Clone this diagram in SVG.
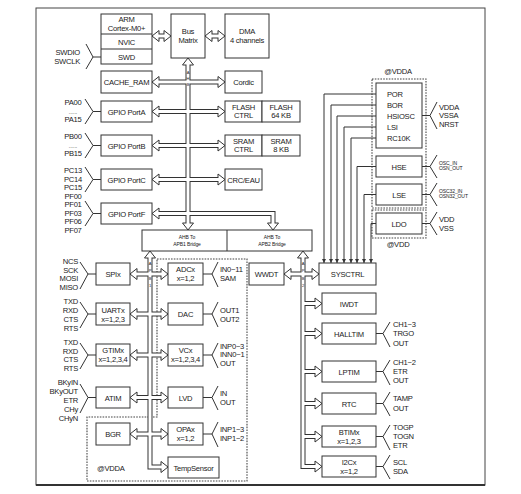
<svg xmlns="http://www.w3.org/2000/svg" width="521" height="494" viewBox="0 0 521 494">
<defs>
<style>
.bx{fill:#fff;stroke:#333;stroke-width:1}
.t{font-family:"Liberation Sans",Arial,sans-serif;font-size:7.6px;fill:#1a1a1a;text-anchor:middle;letter-spacing:-0.25px}
.e{text-anchor:end}
.st{text-anchor:start}
.sm{font-size:5px;letter-spacing:-0.1px}
.xs{font-size:4px;letter-spacing:0}
.ln{fill:none;stroke:#333;stroke-width:1}
.dot{fill:none;stroke:#444;stroke-width:1.1;stroke-dasharray:1.6 1.2}
.bo{fill:none;stroke:#333;stroke-width:5;stroke-linejoin:miter}
.bi{fill:none;stroke:#fff;stroke-width:3;stroke-linejoin:miter}
.hd{fill:#fff;stroke:#333;stroke-width:1;stroke-linejoin:miter}
.frame{fill:none;stroke:#444;stroke-width:1}
</style>
<path id="hd" d="M0,0 L-7,-5.5 L-7,5.5 Z"/>
<path id="bus" d="M158,36 H165 M211,36 H219 M188,64 V224 M158,82 H219 M158,111.5 H219 M158,145.5 H219 M158,179.5 H219 M158,213.5 H273 V224
M150,257 V467 H162 M136,274 H162 M136,314 H162 M136,355 H162 M136,397.5 H162 M136,434 H162
M303,257 V466.5 H316 M290,274 H313 M303,303.5 H316 M303,333.5 H316 M303,371.5 H316 M303,403.5 H316 M303,436.5 H316"/>
<marker id="ar" viewBox="0 0 6 6" refX="6" refY="3" markerWidth="4.5" markerHeight="4.5" orient="auto" markerUnits="userSpaceOnUse"><path d="M0,0 L6,3 L0,6 Z" fill="#333"/></marker>
</defs>

<rect class="frame" x="36" y="8" width="449" height="477"/>
<path d="M36,485 H485" stroke="#333" stroke-width="2"/>

<!-- dotted power domains -->
<path class="dot" d="M157,259 H247 V481 H87 V417 H157 Z"/>
<rect class="dot" x="372" y="79" width="54" height="129"/>
<rect class="dot" x="372" y="210" width="54" height="28"/>
<text class="t st" x="97" y="471">@VDDA</text>
<text class="t" x="398" y="74">@VDDA</text>
<text class="t" x="398" y="247">@VDD</text>

<g id="connectors">
  <use href="#bus" class="bo"/>
  <g id="heads" class="hd">
    <use href="#hd" transform="translate(152,36) rotate(180)"/>
    <use href="#hd" transform="translate(171,36)"/>
    <use href="#hd" transform="translate(205,36) rotate(180)"/>
    <use href="#hd" transform="translate(225,36)"/>
    <use href="#hd" transform="translate(188,58) rotate(-90)"/>
    <use href="#hd" transform="translate(188,230) rotate(90)"/>
    <use href="#hd" transform="translate(152,82) rotate(180)"/>
    <use href="#hd" transform="translate(225,82)"/>
    <use href="#hd" transform="translate(152,111.5) rotate(180)"/>
    <use href="#hd" transform="translate(225,111.5)"/>
    <use href="#hd" transform="translate(152,145.5) rotate(180)"/>
    <use href="#hd" transform="translate(225,145.5)"/>
    <use href="#hd" transform="translate(152,179.5) rotate(180)"/>
    <use href="#hd" transform="translate(225,179.5)"/>
    <use href="#hd" transform="translate(152,213.5) rotate(180)"/>
    <use href="#hd" transform="translate(273,230) rotate(90)"/>
    <use href="#hd" transform="translate(150,251) rotate(-90)"/>
    <use href="#hd" transform="translate(168,467)"/>
    <use href="#hd" transform="translate(130,274) rotate(180)"/>
    <use href="#hd" transform="translate(168,274)"/>
    <use href="#hd" transform="translate(130,314) rotate(180)"/>
    <use href="#hd" transform="translate(168,314)"/>
    <use href="#hd" transform="translate(130,355) rotate(180)"/>
    <use href="#hd" transform="translate(168,355)"/>
    <use href="#hd" transform="translate(130,397.5) rotate(180)"/>
    <use href="#hd" transform="translate(168,397.5)"/>
    <use href="#hd" transform="translate(130,434) rotate(180)"/>
    <use href="#hd" transform="translate(168,434)"/>
    <use href="#hd" transform="translate(303,251) rotate(-90)"/>
    <use href="#hd" transform="translate(322,466.5)"/>
    <use href="#hd" transform="translate(284,274) rotate(180)"/>
    <use href="#hd" transform="translate(319,274)"/>
    <use href="#hd" transform="translate(322,303.5)"/>
    <use href="#hd" transform="translate(322,333.5)"/>
    <use href="#hd" transform="translate(322,371.5)"/>
    <use href="#hd" transform="translate(322,403.5)"/>
    <use href="#hd" transform="translate(322,436.5)"/>
  </g>
  <use href="#bus" class="bi"/>
  <g class="t xs">
    <text x="188" y="73.5">A</text><text x="188" y="79.5">H</text><text x="188" y="85.5">B</text>
    <text x="150" y="264.5">A</text><text x="150" y="271.5">P</text><text x="150" y="279.5">B</text><text x="150" y="286.5">1</text>
    <text x="303" y="264.5">A</text><text x="303" y="271.5">P</text><text x="303" y="279.5">B</text><text x="303" y="286.5">2</text>
  </g>
  <g id="power-lines" class="ln">
    <path d="M376,94 H324 V263" marker-end="url(#ar)"/>
    <path d="M376,105 H331 V263" marker-end="url(#ar)"/>
    <path d="M376,116 H337 V263" marker-end="url(#ar)"/>
    <path d="M376,127 H344 V263" marker-end="url(#ar)"/>
    <path d="M376,138 H351 V263" marker-end="url(#ar)"/>
    <path d="M376,166.5 H357 V263" marker-end="url(#ar)"/>
    <path d="M376,194.5 H364 V263" marker-end="url(#ar)"/>
    <path d="M376,223.5 H371 V263" marker-end="url(#ar)"/>
  </g>
  <g id="pins" class="ln">
    <path d="M86,44 L93,57 L86,69 M93,57 H101"/>
    <path d="M85,99 L93,111.5 L85,124 M93,111.5 H101"/>
    <path d="M85,133 L93,145.5 L85,158 M93,145.5 H101"/>
    <path d="M85,167 L93,179.5 L85,192 M93,179.5 H101"/>
    <path d="M85,201 L93,213.5 L85,226 M93,213.5 H101"/>
    <path d="M80,262 L88,274 L80,289 M88,274 H96"/>
    <path d="M80,302 L88,314 L80,328 M88,314 H96"/>
    <path d="M80,343 L88,355 L80,369 M88,355 H96"/>
    <path d="M80,384 L88,397.5 L80,413 M88,397.5 H96"/>
    <path d="M203,274 H212 M218,262 L212,274 L218,287"/>
    <path d="M203,314 H212 M218,302 L212,314 L218,327"/>
    <path d="M203,355 H212 M218,343 L212,355 L218,368"/>
    <path d="M203,397.5 H212 M218,386 L212,397.5 L218,410"/>
    <path d="M203,434 H212 M218,422 L212,434 L218,447"/>
    <path d="M376,333.5 H383 M390,322 L383,333.5 L390,347"/>
    <path d="M376,371.5 H383 M390,360 L383,371.5 L390,385"/>
    <path d="M376,403.5 H383 M390,392 L383,403.5 L390,416"/>
    <path d="M376,436.5 H383 M390,425 L383,436.5 L390,450"/>
    <path d="M376,466.5 H383 M390,455 L383,466.5 L390,479"/>
    <path d="M422,115.5 H430 M437,102 L430,115.5 L437,129"/>
    <path d="M422,166.5 H430 M437,155 L430,166.5 L437,178"/>
    <path d="M422,194.5 H430 M437,183 L430,194.5 L437,206"/>
    <path d="M422,223.5 H430 M437,212 L430,223.5 L437,235"/>
  </g>
</g>

<!-- pin labels -->
<g class="t e">
  <text x="80" y="55">SWDIO</text><text x="80" y="64">SWCLK</text>
  <text x="78" y="264">NCS</text><text x="78" y="273">SCK</text><text x="78" y="281">MOSI</text><text x="78" y="290">MISO</text>
  <text x="78" y="304">TXD</text><text x="78" y="313">RXD</text><text x="78" y="322">CTS</text><text x="78" y="331">RTS</text>
  <text x="78" y="345">TXD</text><text x="78" y="354">RXD</text><text x="78" y="362">CTS</text><text x="78" y="371">RTS</text>
  <text x="78" y="385">BKyIN</text><text x="78" y="394">BKyOUT</text><text x="78" y="403">ETR</text><text x="78" y="412">CHy</text><text x="78" y="421">CHyN</text>
</g>
<g class="t">
  <text x="73" y="104.5">PA00</text><text x="73" y="113.5" style="font-size:5px;letter-spacing:0">......</text><text x="73" y="122">PA15</text>
  <text x="73" y="138.5">PB00</text><text x="73" y="147.5" style="font-size:5px;letter-spacing:0">......</text><text x="73" y="156">PB15</text>
  <text x="73" y="173">PC13</text><text x="73" y="182">PC14</text><text x="73" y="190">PC15</text><text x="73" y="199">PF00</text>
  <text x="73" y="207">PF01</text><text x="73" y="216">PF03</text><text x="73" y="224">PF06</text><text x="73" y="233">PF07</text>
</g>
<g class="t st">
  <text x="220" y="272">IN0~11</text><text x="220" y="281">SAM</text>
  <text x="220" y="313">OUT1</text><text x="220" y="322">OUT2</text>
  <text x="220" y="349">INP0~3</text><text x="220" y="357">INN0~1</text><text x="220" y="366">OUT</text>
  <text x="220" y="396">IN</text><text x="220" y="405">OUT</text>
  <text x="220" y="432">INP1~3</text><text x="220" y="441">INP1~2</text>
  <text x="393" y="327">CH1~3</text><text x="393" y="336">TRGO</text><text x="393" y="346">OUT</text>
  <text x="393" y="365">CH1~2</text><text x="393" y="374">ETR</text><text x="393" y="383">OUT</text>
  <text x="393" y="401">TAMP</text><text x="393" y="411">OUT</text>
  <text x="393" y="430">TOGP</text><text x="393" y="439">TOGN</text><text x="393" y="448">ETR</text>
  <text x="393" y="465">SCL</text><text x="393" y="474">SDA</text>
  <text x="439" y="110">VDDA</text><text x="439" y="118">VSSA</text><text x="439" y="127">NRST</text>
  <text x="439" y="222">VDD</text><text x="439" y="231">VSS</text>
</g>
<g class="t st sm">
  <text x="439" y="165">OSC_IN</text><text x="439" y="170">OSN_OUT</text>
  <text x="439" y="193">OSC32_IN</text><text x="439" y="198">OSN32_OUT</text>
</g>

<!-- nodes -->
<g id="cpu"><rect class="bx" x="101" y="14" width="51" height="50"/><path class="ln" d="M101,34 H152 M101,49 H152"/>
  <text class="t" x="126.5" y="22">ARM</text><text class="t" x="126.5" y="31">Cortex-M0+</text><text class="t" x="126.5" y="45">NVIC</text><text class="t" x="126.5" y="60">SWD</text></g>
<g id="busmatrix"><rect class="bx" x="171" y="14" width="34" height="44"/><text class="t" x="188" y="34">Bus</text><text class="t" x="188" y="43">Matrix</text></g>
<g id="dma"><rect class="bx" x="225" y="14" width="44" height="44"/><text class="t" x="247" y="34">DMA</text><text class="t" x="247" y="43">4 channels</text></g>
<g id="cacheram"><rect class="bx" x="101" y="71" width="51" height="22"/><text class="t" x="126.5" y="85">CACHE_RAM</text></g>
<g id="cordic"><rect class="bx" x="225" y="71" width="37" height="22"/><text class="t" x="243.5" y="85">Cordic</text></g>
<g id="gpioa"><rect class="bx" x="101" y="101" width="51" height="21"/><text class="t" x="126.5" y="114.5">GPIO PortA</text></g>
<g id="flash"><rect class="bx" x="225" y="101" width="37" height="21"/><rect class="bx" x="262" y="101" width="38" height="21"/>
  <text class="t" x="243.5" y="110">FLASH</text><text class="t" x="243.5" y="118">CTRL</text><text class="t" x="281" y="110">FLASH</text><text class="t" x="281" y="118">64 KB</text></g>
<g id="gpiob"><rect class="bx" x="101" y="135" width="51" height="21"/><text class="t" x="126.5" y="148.5">GPIO PortB</text></g>
<g id="sram"><rect class="bx" x="225" y="135" width="37" height="21"/><rect class="bx" x="262" y="135" width="38" height="21"/>
  <text class="t" x="243.5" y="144">SRAM</text><text class="t" x="243.5" y="152">CTRL</text><text class="t" x="281" y="144">SRAM</text><text class="t" x="281" y="152">8 KB</text></g>
<g id="gpioc"><rect class="bx" x="101" y="169" width="51" height="21"/><text class="t" x="126.5" y="182.5">GPIO PortC</text></g>
<g id="crc"><rect class="bx" x="225" y="169" width="37" height="21"/><text class="t" x="243.5" y="182.5">CRC/EAU</text></g>
<g id="gpiof"><rect class="bx" x="101" y="203" width="51" height="21"/><text class="t" x="126.5" y="216.5">GPIO PortF</text></g>
<g id="bridge"><rect class="bx" x="142" y="230" width="170" height="21"/><path class="ln" d="M227,230 V251"/>
  <text class="t sm" x="187" y="239">AHB To</text><text class="t sm" x="187" y="246">APB1 Bridge</text>
  <text class="t sm" x="272" y="239">AHB To</text><text class="t sm" x="272" y="246">APB2 Bridge</text></g>
<g id="spi"><rect class="bx" x="96" y="263" width="34" height="22"/><text class="t" x="113" y="277">SPIx</text></g>
<g id="uart"><rect class="bx" x="96" y="303" width="34" height="22"/><text class="t" x="113" y="313">UARTx</text><text class="t" x="113" y="322">x=1,2,3</text></g>
<g id="gtim"><rect class="bx" x="96" y="344" width="34" height="22"/><text class="t" x="113" y="353">GTIMx</text><text class="t" x="113" y="362">x=1,2,3,4</text></g>
<g id="atim"><rect class="bx" x="96" y="387" width="34" height="21"/><text class="t" x="113" y="400.5">ATIM</text></g>
<g id="bgr"><rect class="bx" x="96" y="423" width="34" height="22"/><text class="t" x="113" y="437">BGR</text></g>
<g id="adc"><rect class="bx" x="168" y="263" width="35" height="22"/><text class="t" x="185.5" y="272">ADCx</text><text class="t" x="185.5" y="281">x=1,2</text></g>
<g id="dac"><rect class="bx" x="168" y="303" width="35" height="22"/><text class="t" x="185.5" y="317">DAC</text></g>
<g id="vc"><rect class="bx" x="168" y="344" width="35" height="22"/><text class="t" x="185.5" y="353">VCx</text><text class="t" x="185.5" y="362">x=1,2,3,4</text></g>
<g id="lvd"><rect class="bx" x="168" y="387" width="35" height="21"/><text class="t" x="185.5" y="400.5">LVD</text></g>
<g id="opa"><rect class="bx" x="168" y="423" width="35" height="22"/><text class="t" x="185.5" y="432">OPAx</text><text class="t" x="185.5" y="441">x=1,2</text></g>
<g id="tempsensor"><rect class="bx" x="168" y="457" width="51" height="21"/><text class="t" x="193.5" y="470.5">TempSensor</text></g>
<g id="wwdt"><rect class="bx" x="249" y="263" width="35" height="22"/><text class="t" x="266.5" y="277">WWDT</text></g>
<g id="sysctrl"><rect class="bx" x="319" y="263" width="57" height="22"/><text class="t" x="347.5" y="277">SYSCTRL</text></g>
<g id="iwdt"><rect class="bx" x="322" y="293" width="54" height="21"/><text class="t" x="349" y="306.5">IWDT</text></g>
<g id="halltim"><rect class="bx" x="322" y="323" width="54" height="21"/><text class="t" x="349" y="336.5">HALLTIM</text></g>
<g id="lptim"><rect class="bx" x="322" y="361" width="54" height="21"/><text class="t" x="349" y="374.5">LPTIM</text></g>
<g id="rtc"><rect class="bx" x="322" y="393" width="54" height="21"/><text class="t" x="349" y="406.5">RTC</text></g>
<g id="btim"><rect class="bx" x="322" y="426" width="54" height="21"/><text class="t" x="349" y="435">BTIMx</text><text class="t" x="349" y="444">x=1,2,3</text></g>
<g id="i2c"><rect class="bx" x="322" y="456" width="54" height="21"/><text class="t" x="349" y="465">I2Cx</text><text class="t" x="349" y="474">x=1,2</text></g>
<g id="pwr"><rect class="bx" x="376" y="83" width="46" height="65"/>
  <text class="t st" x="387" y="97">POR</text><text class="t st" x="387" y="108">BOR</text><text class="t st" x="387" y="119">HSIOSC</text><text class="t st" x="387" y="130">LSI</text><text class="t st" x="387" y="141">RC10K</text></g>
<g id="hse"><rect class="bx" x="376" y="156" width="46" height="21"/><text class="t" x="399" y="169.5">HSE</text></g>
<g id="lse"><rect class="bx" x="376" y="184" width="46" height="21"/><text class="t" x="399" y="197.5">LSE</text></g>
<g id="ldo"><rect class="bx" x="376" y="213" width="46" height="21"/><text class="t" x="399" y="226.5">LDO</text></g>
</svg>
